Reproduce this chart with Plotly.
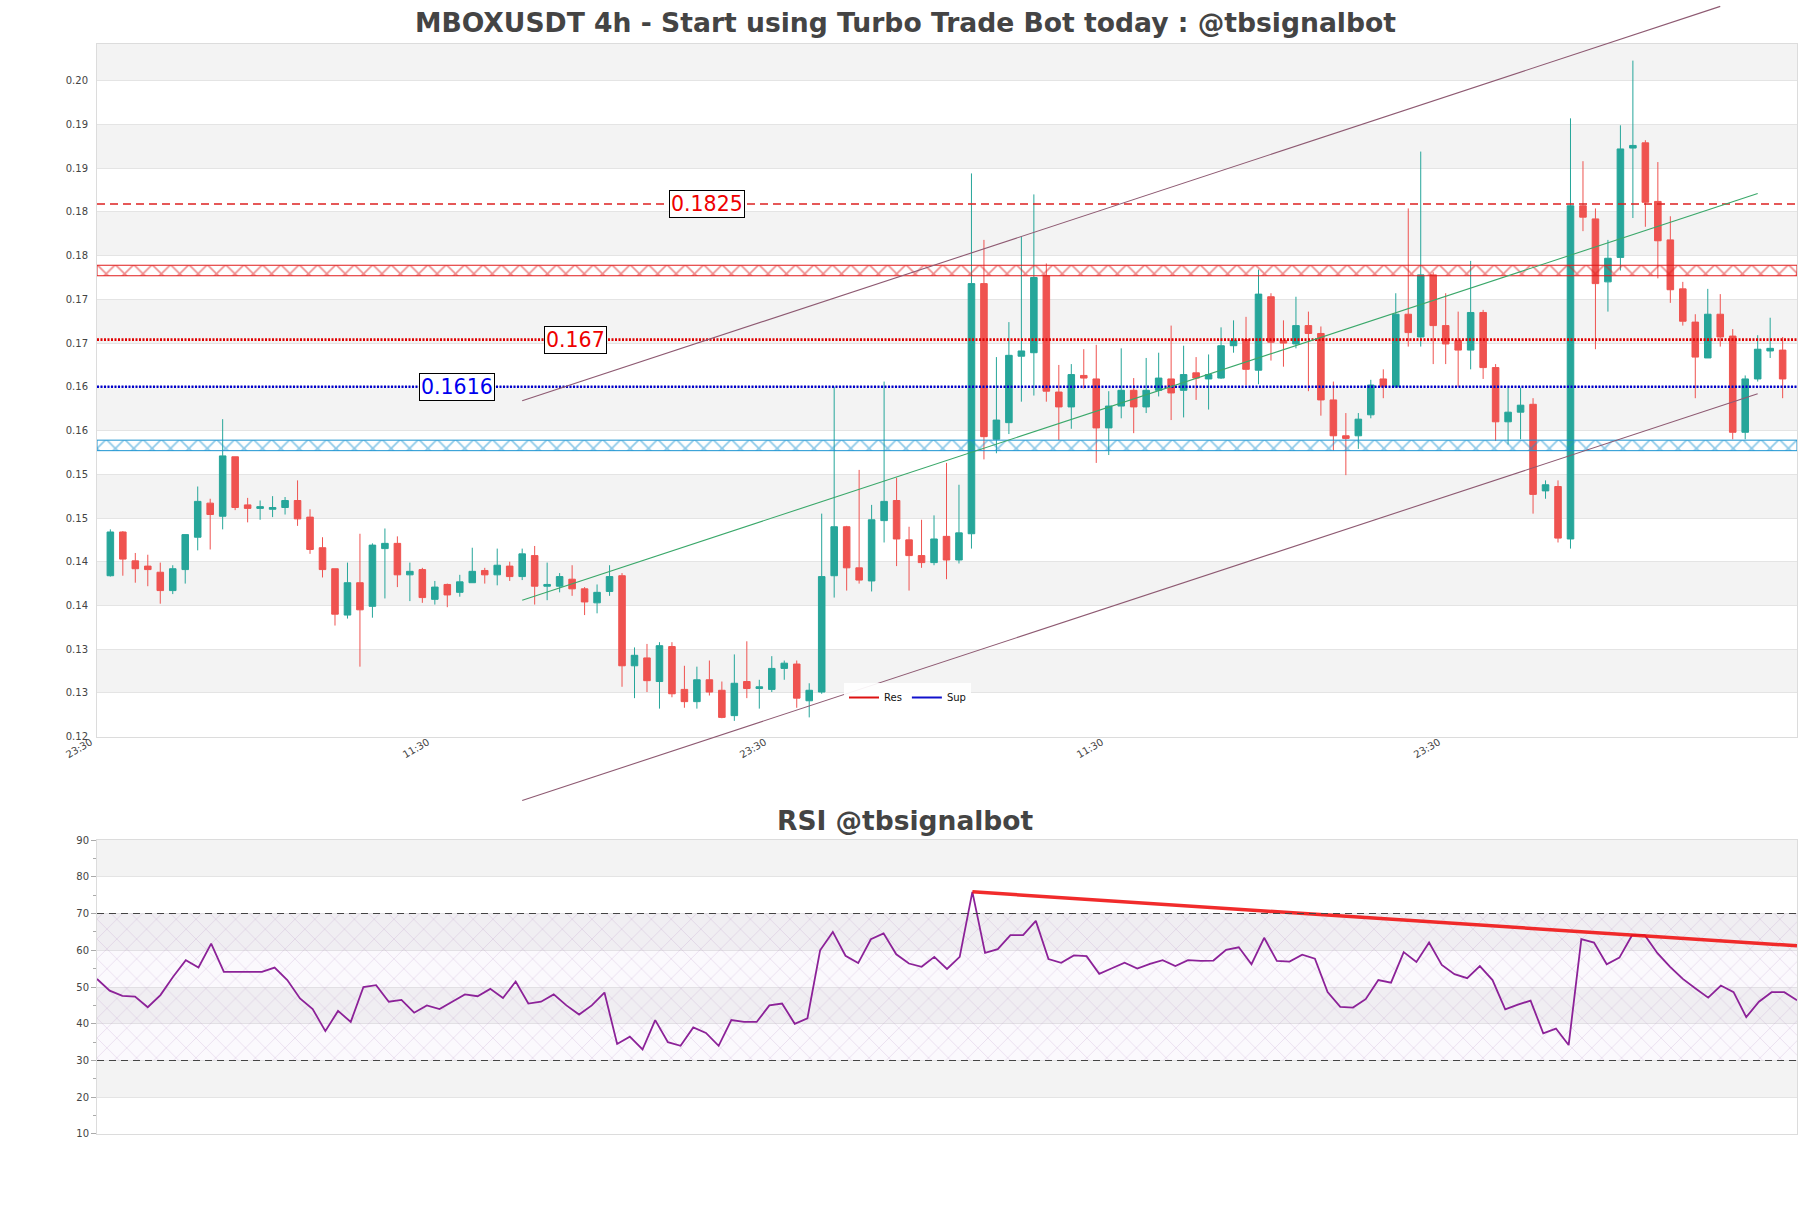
import pandas as pd
import plotly.graph_objects as go

FONT = "DejaVu Sans"
UP, DOWN = "#26a69a", "#ef5350"

# ---------------- data ----------------
times = pd.date_range("2024-04-20 03:30", periods=135, freq="4h")

open_ = [0.1400, 0.1450, 0.1417, 0.1411, 0.1404, 0.1383, 0.1407, 0.1444, 0.1483, 0.1468,
         0.1536, 0.1481, 0.1477, 0.1476, 0.1478, 0.1486, 0.1467, 0.1432, 0.1408, 0.1355,
         0.1392, 0.1365, 0.1431, 0.1437, 0.1401, 0.1407, 0.1373, 0.1390, 0.1381, 0.1392,
         0.1406, 0.1401, 0.1411, 0.1399, 0.1423, 0.1388, 0.1388, 0.1396, 0.1385, 0.1369,
         0.1382, 0.1400, 0.1297, 0.1306, 0.1279, 0.1319, 0.1270, 0.1256, 0.1281, 0.1269,
         0.1240, 0.1279, 0.1271, 0.1270, 0.1294, 0.1299, 0.1257, 0.1267, 0.1400, 0.1456,
         0.1409, 0.1394, 0.1463, 0.1486, 0.1441, 0.1423, 0.1415, 0.1445, 0.1418, 0.1448,
         0.1734, 0.1556, 0.1575, 0.1651, 0.1655, 0.1743, 0.1610, 0.1593, 0.1629, 0.1625,
         0.1569, 0.1594, 0.1612, 0.1593, 0.1612, 0.1625, 0.1612, 0.1632, 0.1625, 0.1626,
         0.1663, 0.1670, 0.1635, 0.1719, 0.1669, 0.1665, 0.1686, 0.1677, 0.1601, 0.1560,
         0.1560, 0.1584, 0.1625, 0.1616, 0.1699, 0.1673, 0.1744, 0.1686, 0.1669, 0.1658,
         0.1701, 0.1638, 0.1576, 0.1587, 0.1596, 0.1497, 0.1502, 0.1442, 0.1823, 0.1808,
         0.1736, 0.1764, 0.1889, 0.1895, 0.1828, 0.1784, 0.1728, 0.1690, 0.1649, 0.1699,
         0.1674, 0.1564, 0.1625, 0.1657, 0.1658]
high = [0.1453, 0.1451, 0.1426, 0.1424, 0.1415, 0.1412, 0.1447, 0.1502, 0.1488, 0.1579,
        0.1536, 0.1489, 0.1486, 0.1491, 0.1490, 0.1509, 0.1476, 0.1444, 0.1408, 0.1415,
        0.1448, 0.1437, 0.1454, 0.1445, 0.1415, 0.1409, 0.1394, 0.1391, 0.1401, 0.1432,
        0.1409, 0.1431, 0.1416, 0.1431, 0.1434, 0.1415, 0.1403, 0.1412, 0.1387, 0.1390,
        0.1412, 0.1403, 0.1318, 0.1322, 0.1324, 0.1324, 0.1297, 0.1296, 0.1303, 0.1279,
        0.1310, 0.1325, 0.1281, 0.1308, 0.1303, 0.1303, 0.1277, 0.1471, 0.1616, 0.1457,
        0.1521, 0.1481, 0.1622, 0.1512, 0.1456, 0.1464, 0.1469, 0.1529, 0.1504, 0.1860,
        0.1784, 0.1650, 0.1690, 0.1788, 0.1836, 0.1757, 0.1641, 0.1642, 0.1659, 0.1664,
        0.1611, 0.1660, 0.1626, 0.1649, 0.1655, 0.1686, 0.1663, 0.1650, 0.1653, 0.1684,
        0.1692, 0.1696, 0.1750, 0.1723, 0.1692, 0.1719, 0.1702, 0.1685, 0.1622, 0.1586,
        0.1586, 0.1624, 0.1636, 0.1723, 0.1820, 0.1885, 0.1747, 0.1723, 0.1702, 0.1760,
        0.1704, 0.1642, 0.1615, 0.1615, 0.1603, 0.1509, 0.1509, 0.1923, 0.1874, 0.1820,
        0.1784, 0.1915, 0.1989, 0.1898, 0.1873, 0.1811, 0.1736, 0.1699, 0.1728, 0.1722,
        0.1682, 0.1629, 0.1675, 0.1695, 0.1673]
low = [0.1399, 0.1400, 0.1392, 0.1388, 0.1368, 0.1379, 0.1391, 0.1429, 0.1430, 0.1453,
       0.1475, 0.1461, 0.1464, 0.1467, 0.1470, 0.1457, 0.1425, 0.1398, 0.1343, 0.1351,
       0.1296, 0.1352, 0.1374, 0.1387, 0.1371, 0.1369, 0.1367, 0.1364, 0.1376, 0.1392,
       0.1391, 0.1389, 0.1394, 0.1395, 0.1367, 0.1372, 0.1381, 0.1377, 0.1355, 0.1357,
       0.1377, 0.1273, 0.1260, 0.1267, 0.1248, 0.1261, 0.1249, 0.1248, 0.1263, 0.1237,
       0.1234, 0.1260, 0.1248, 0.1267, 0.1281, 0.1249, 0.1238, 0.1265, 0.1375, 0.1383,
       0.1391, 0.1382, 0.1438, 0.1411, 0.1383, 0.1409, 0.1412, 0.1396, 0.1414, 0.1431,
       0.1533, 0.1540, 0.1562, 0.1599, 0.1606, 0.1599, 0.1555, 0.1568, 0.1614, 0.1529,
       0.1538, 0.1580, 0.1563, 0.1586, 0.1605, 0.1578, 0.1581, 0.1601, 0.1590, 0.1625,
       0.1655, 0.1618, 0.1619, 0.1646, 0.1639, 0.1660, 0.1611, 0.1583, 0.1543, 0.1515,
       0.1545, 0.1580, 0.1603, 0.1615, 0.1662, 0.1662, 0.1642, 0.1642, 0.1616, 0.1636,
       0.1625, 0.1554, 0.1550, 0.1556, 0.1471, 0.1488, 0.1438, 0.1431, 0.1794, 0.1659,
       0.1702, 0.1749, 0.1809, 0.1799, 0.1740, 0.1712, 0.1686, 0.1603, 0.1649, 0.1662,
       0.1556, 0.1556, 0.1622, 0.1649, 0.1603]
close = [0.1450, 0.1419, 0.1408, 0.1407, 0.1383, 0.1408, 0.1447, 0.1485, 0.1470, 0.1537,
         0.1478, 0.1477, 0.1479, 0.1478, 0.1486, 0.1465, 0.1430, 0.1407, 0.1356, 0.1392,
         0.1361, 0.1435, 0.1437, 0.1401, 0.1405, 0.1375, 0.1387, 0.1378, 0.1393, 0.1405,
         0.1401, 0.1412, 0.1399, 0.1425, 0.1388, 0.1390, 0.1399, 0.1385, 0.1370, 0.1381,
         0.1399, 0.1297, 0.1309, 0.1280, 0.1320, 0.1265, 0.1256, 0.1281, 0.1267, 0.1238,
         0.1277, 0.1271, 0.1273, 0.1294, 0.1300, 0.1260, 0.1269, 0.1399, 0.1456, 0.1409,
         0.1395, 0.1464, 0.1485, 0.1442, 0.1423, 0.1415, 0.1442, 0.1418, 0.1449, 0.1734,
         0.1559, 0.1578, 0.1652, 0.1657, 0.1741, 0.1611, 0.1593, 0.1630, 0.1626, 0.1569,
         0.1594, 0.1612, 0.1593, 0.1612, 0.1626, 0.1609, 0.1630, 0.1626, 0.1630, 0.1663,
         0.1669, 0.1636, 0.1722, 0.1667, 0.1666, 0.1686, 0.1677, 0.1601, 0.1560, 0.1557,
         0.1579, 0.1618, 0.1616, 0.1699, 0.1678, 0.1744, 0.1686, 0.1665, 0.1658, 0.1701,
         0.1638, 0.1576, 0.1587, 0.1595, 0.1493, 0.1504, 0.1443, 0.1823, 0.1810, 0.1734,
         0.1763, 0.1888, 0.1892, 0.1827, 0.1783, 0.1727, 0.1691, 0.1650, 0.1699, 0.1673,
         0.1564, 0.1625, 0.1659, 0.1660, 0.1625]

rsi = [52.2, 49.0, 47.6, 47.4, 44.5, 47.8, 52.8, 57.3, 55.3, 61.8,
       54.1, 54.1, 54.3, 54.1, 55.3, 51.9, 46.9, 44.0, 38.0, 43.5,
       40.5, 50.0, 50.5, 46.0, 46.5, 43.0, 45.0, 44.0, 46.0, 48.0,
       47.5, 49.5, 47.0, 51.5, 45.5, 46.0, 48.0, 45.0, 42.5, 45.0,
       48.5, 34.5, 36.5, 33.0, 41.0, 35.0, 34.0, 39.0, 37.5, 34.0,
       41.0, 40.5, 40.5, 45.0, 45.5, 40.0, 41.5, 60.0, 65.0, 58.5,
       56.5, 63.0, 64.6, 58.9, 56.4, 55.5, 58.2, 54.9, 58.2, 75.9,
       59.3, 60.3, 64.1, 64.1, 68.0, 57.6, 56.6, 58.6, 58.4, 53.6,
       55.1, 56.6, 55.0, 56.3, 57.3, 55.7, 57.3, 57.1, 57.2, 60.1,
       60.8, 56.2, 63.4, 57.1, 56.9, 58.8, 57.7, 48.6, 44.6, 44.4,
       46.7, 51.9, 51.2, 59.5, 56.8, 62.1, 56.0, 53.5, 52.4, 55.7,
       51.9, 43.9, 45.2, 46.3, 37.4, 38.7, 34.2, 63.0, 62.1, 56.2,
       58.0, 64.1, 64.1, 59.2, 55.5, 52.2, 49.6, 47.1, 50.4, 48.6,
       41.8, 46.0, 48.6, 48.6, 46.4]

res_levels = [0.1825, 0.167]
sup_levels = [0.1616]
res_labels = ["0.1825", "0.167"]
sup_labels = ["0.1616"]
res_zone = [0.1743, 0.1755]
sup_zone = [0.1543, 0.1555]

channel_idx = [33, 132]
upper_idx = [33, 129]
upper_channel = [0.1600, 0.2051]
mid_channel = [0.1372, 0.1837]
lower_channel = [0.1143, 0.1608]

rsi_trend_idx = [69, 134]
rsi_trend = [75.9, 61.2]
rsi_levels = [70, 30]

x_tick_times = ["2024-04-19 23:30", "2024-04-24 11:30", "2024-04-28 23:30",
                "2024-05-03 11:30", "2024-05-07 23:30"]
x_tick_labels = ["23:30", "11:30", "23:30", "11:30", "23:30"]

# ---------------- layout geometry ----------------
W, H = 1811, 1208
M_L, M_R, M_T, M_B = 97, 14, 44, 74
main_dom = [0.3644, 1.0]
rsi_dom = [0.0, 0.2697]
y_range = [0.12158, 0.2008]
rsi_range = [10, 90]
step = pd.Timedelta(hours=4)
x_range = [times[0] - 1.07 * step, times[-1] + 1.15 * step]
x2_range = [times[0], times[-1]]


def to_paper(v):
    return main_dom[0] + (v - y_range[0]) / (y_range[1] - y_range[0]) * (main_dom[1] - main_dom[0])


fig = go.Figure()

fig.add_trace(go.Candlestick(
    x=times, open=open_, high=high, low=low, close=close,
    increasing=dict(line=dict(color=UP, width=1), fillcolor=UP),
    decreasing=dict(line=dict(color=DOWN, width=1), fillcolor=DOWN),
    showlegend=False, hoverinfo="skip", xaxis="x", yaxis="y"))

# zones with cross hatch
for zone, col in [(res_zone, "#e01b1b"), (sup_zone, "#1b93d1")]:
    lo, hi = zone
    fig.add_trace(go.Scatter(
        x=[x_range[0], x_range[1], x_range[1], x_range[0], x_range[0]],
        y=[lo, lo, hi, hi, lo], mode="lines", fill="toself",
        line=dict(color=col, width=1), fillcolor="rgba(0,0,0,0)",
        fillpattern=dict(shape="x", fgcolor=col, bgcolor="rgba(0,0,0,0)", size=13, solidity=0.25),
        showlegend=False, hoverinfo="skip", xaxis="x", yaxis="y"))

# legend entries
fig.add_trace(go.Scatter(x=[None], y=[None], mode="lines", name="Res",
                         line=dict(color="#dd1111", width=2), xaxis="x", yaxis="y"))
fig.add_trace(go.Scatter(x=[None], y=[None], mode="lines", name="Sup",
                         line=dict(color="#1111cc", width=2), xaxis="x", yaxis="y"))

# RSI hatch zone
fig.add_trace(go.Scatter(
    x=[x2_range[0], x2_range[1], x2_range[1], x2_range[0], x2_range[0]],
    y=[rsi_levels[1], rsi_levels[1], rsi_levels[0], rsi_levels[0], rsi_levels[1]],
    mode="lines", fill="toself", line=dict(width=0, color="rgba(0,0,0,0)"),
    fillcolor="rgba(0,0,0,0)",
    fillpattern=dict(shape="x", fgcolor="rgba(165,120,185,0.45)", bgcolor="rgba(205,170,225,0.08)",
                     size=14, solidity=0.12),
    showlegend=False, hoverinfo="skip", xaxis="x2", yaxis="y2"))

fig.add_trace(go.Scatter(x=times, y=rsi, mode="lines", line=dict(color="#8c2298", width=1.8),
                         showlegend=False, hoverinfo="skip", xaxis="x2", yaxis="y2"))
fig.add_trace(go.Scatter(x=[times[i] for i in rsi_trend_idx], y=rsi_trend, mode="lines",
                         line=dict(color="rgba(240,20,20,0.9)", width=3.5),
                         showlegend=False, hoverinfo="skip", xaxis="x2", yaxis="y2"))

shapes = []
# grid bands
dtick = 0.005
k = 0
while True:
    lo = 0.1266 + 2 * k * dtick
    if lo > y_range[1]:
        break
    shapes.append(dict(type="rect", xref="x domain", yref="y", x0=0, x1=1, y0=lo,
                       y1=min(lo + dtick, y_range[1]), fillcolor="#f3f3f3",
                       line=dict(width=0), layer="below"))
    k += 1
for lo in [20, 40, 60, 80]:
    shapes.append(dict(type="rect", xref="x2 domain", yref="y2", x0=0, x1=1, y0=lo, y1=lo + 10,
                       fillcolor="#f3f3f3", line=dict(width=0), layer="below"))

# S/R levels
shapes.append(dict(type="line", xref="x domain", yref="y", x0=0, x1=1, y0=res_levels[0], y1=res_levels[0],
                   line=dict(color="#dd2222", width=1.4, dash="8px,5px")))
shapes.append(dict(type="line", xref="x domain", yref="y", x0=0, x1=1, y0=res_levels[1], y1=res_levels[1],
                   line=dict(color="#e00000", width=2.6, dash="2px,1.5px")))
shapes.append(dict(type="line", xref="x domain", yref="y", x0=0, x1=1, y0=sup_levels[0], y1=sup_levels[0],
                   line=dict(color="#0000cc", width=2.6, dash="2px,1.5px")))

# channel lines (allowed to run past the frame vertically)
chan_col = "#8e5a72"
shapes.append(dict(type="line", xref="x", yref="paper",
                   x0=times[upper_idx[0]], x1=times[upper_idx[1]],
                   y0=to_paper(upper_channel[0]), y1=to_paper(upper_channel[1]),
                   line=dict(color=chan_col, width=1.1)))
shapes.append(dict(type="line", xref="x", yref="paper",
                   x0=times[channel_idx[0]], x1=times[channel_idx[1]],
                   y0=to_paper(lower_channel[0]), y1=to_paper(lower_channel[1]),
                   line=dict(color=chan_col, width=1.1)))
shapes.append(dict(type="line", xref="x", yref="y",
                   x0=times[channel_idx[0]], x1=times[channel_idx[1]],
                   y0=mid_channel[0], y1=mid_channel[1],
                   line=dict(color="#3aa86a", width=1.1)))

# RSI 70/30
for lv in rsi_levels:
    shapes.append(dict(type="line", xref="x2 domain", yref="y2", x0=0, x1=1, y0=lv, y1=lv,
                       line=dict(color="#444", width=1.2, dash="7px,5px")))

annotations = []
label_pos = [45, 35, 25]
for txt, lv, pos, col in [(res_labels[0], res_levels[0], label_pos[0], "#ee0000"),
                          (res_labels[1], res_levels[1], label_pos[1], "#ee0000"),
                          (sup_labels[0], sup_levels[0], label_pos[2], "#0000ee")]:
    annotations.append(dict(x=times[0] + (pos - 0.25) * step, y=lv, xref="x", yref="y",
                            text=txt, showarrow=False, xanchor="left", yanchor="middle",
                            font=dict(family=FONT, size=20.5, color=col),
                            bgcolor="white", bordercolor="black", borderwidth=1, borderpad=1))
annotations.append(dict(x=(W / 2 - M_L) / (W - M_L - M_R), y=(1134 - 820) / (H - M_T - M_B),
                        xref="paper", yref="paper", text="RSI @tbsignalbot", showarrow=False,
                        xanchor="center", yanchor="middle",
                        font=dict(family=FONT, size=26.5, color="#444", weight="bold")))

axis_common = dict(showline=True, mirror=True, linecolor="#dcdcdc", linewidth=1, zeroline=False)

fig.update_layout(
    width=W, height=H, margin=dict(l=M_L, r=M_R, t=M_T, b=M_B),
    paper_bgcolor="white", plot_bgcolor="white",
    font=dict(family=FONT, size=10, color="#444"),
    title=dict(text="MBOXUSDT 4h - Start using Turbo Trade Bot today : @tbsignalbot",
               x=0.5, xref="container", y=1 - 23 / H, yref="container",
               xanchor="center", yanchor="middle",
               font=dict(family=FONT, size=26.6, color="#444", weight="bold")),
    boxgap=0.25,
    xaxis=dict(domain=[0, 1], anchor="y", type="date", range=x_range, showgrid=False,
               rangeslider=dict(visible=False), tickmode="array", tickvals=x_tick_times,
               ticktext=x_tick_labels, tickangle=-30, tickfont=dict(size=10, color="#444"),
               ticks="", ticklabelshift=-7, ticklabelstandoff=-5, **axis_common),
    yaxis=dict(domain=main_dom, anchor="x", range=y_range, tick0=0.1216, dtick=dtick,
               tickformat=".2f", showgrid=True, gridcolor="#e4e4e4", gridwidth=1,
               ticks="outside", ticklen=6, tickcolor="rgba(0,0,0,0)",
               tickfont=dict(size=10, color="#444"), **axis_common),
    xaxis2=dict(domain=[0, 1], anchor="y2", type="date", range=x2_range, showgrid=False,
                showticklabels=False, ticks="", **axis_common),
    yaxis2=dict(domain=rsi_dom, anchor="x2", range=rsi_range, dtick=10, showgrid=True,
                gridcolor="#e4e4e4", ticks="outside", ticklen=5, tickcolor="#aaaaaa",
                minor=dict(dtick=5, ticks="outside", ticklen=3, tickcolor="#aaaaaa", showgrid=False),
                tickfont=dict(size=10, color="#444"), **axis_common),
    legend=dict(orientation="h", x=(907.5 - M_L) / (W - M_L - M_R), xanchor="center",
                y=(1134 - 712) / (H - M_T - M_B), yanchor="bottom",
                bgcolor="rgba(255,255,255,0.92)", font=dict(size=10, color="#111"),
                itemwidth=30),
    shapes=shapes, annotations=annotations, showlegend=True,
)

fig.write_html("out.html")
